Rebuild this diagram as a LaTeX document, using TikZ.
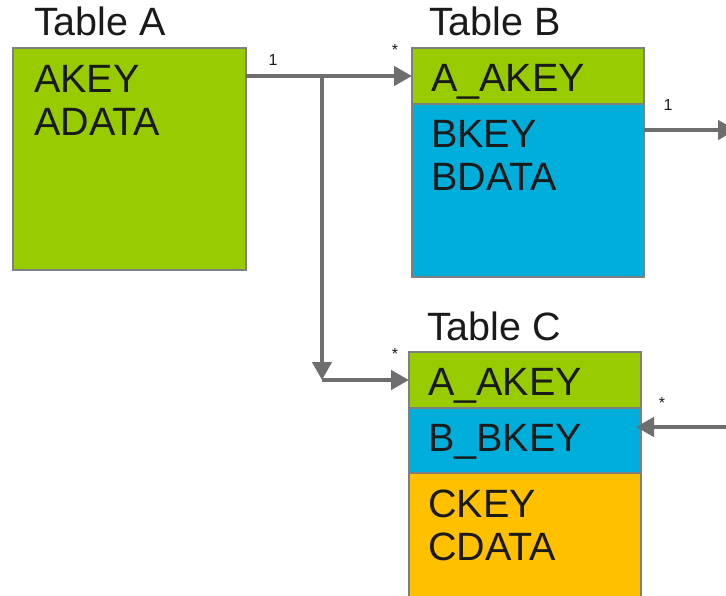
\documentclass[tikz,border=0pt]{standalone}
\usepackage{fontspec}
\setmainfont{Liberation Sans}
\usetikzlibrary{arrows.meta}
\definecolor{tgreen}{HTML}{99CC00}
\definecolor{tblue}{HTML}{00AEDB}
\definecolor{torange}{HTML}{FFC000}
\definecolor{tborder}{HTML}{7F7F7F}
\definecolor{tline}{HTML}{6E6E6E}
\definecolor{ttext}{HTML}{1A1A1A}
\tikzset{
  box/.style={draw=tborder, line width=2pt, inner sep=0pt, outer sep=0pt, anchor=north west},
  big/.style={font=\fontsize{39.5}{44}\selectfont, text=ttext, anchor=base west, inner sep=0pt},
  small/.style={font=\fontsize{16}{18}\selectfont, text=ttext, inner sep=0pt},
  conn/.style={draw=tline, line width=4.5pt, -{Triangle[length=18pt,width=19pt]}},
}
\begin{document}
\begin{tikzpicture}[x=1pt,y=-1pt]
\useasboundingbox (0,0) rectangle (726,596);
\clip (0,0) rectangle (726,596);
% boxes
\node[box, fill=tgreen, minimum width=233pt, minimum height=222pt] (tA) at (13,48) {};
\node[box, fill=tgreen, minimum width=232pt, minimum height=56pt] (bH) at (412,48) {};
\node[box, fill=tblue, minimum width=232pt, minimum height=173pt] (bB) at (412,104) {};
\node[box, fill=tgreen, minimum width=232pt, minimum height=56pt] (cH) at (409,352) {};
\node[box, fill=tblue, minimum width=232pt, minimum height=65pt] (cB) at (409,408) {};
\node[box, fill=torange, minimum width=232pt, minimum height=140pt] (cD) at (409,473) {};
% titles
\node[big] (ttA) at (34,36) {Table A};
\node[big] (ttB) at (429,36) {Table B};
\node[big] (ttC) at (427,341) {Table C};
% contents
\node[big] (a1) at (34,93) {AKEY};
\node[big] (a2) at (34,136) {ADATA};
\node[big] (b0) at (431,92) {A\_AKEY};
\node[big] (b1) at (431,148) {BKEY};
\node[big] (b2) at (431,191) {BDATA};
\node[big] (c0) at (428,395) {A\_AKEY};
\node[big] (c1) at (428,451) {B\_BKEY};
\node[big] (c2) at (428,517) {CKEY};
\node[big] (c3) at (428,560) {CDATA};
% connectors
\coordinate (j) at (322,76);
\coordinate (outB) at (736,130);
\coordinate (inC) at (740,427);
\draw[conn] (tA.east |- bH.center) -- (bH.west);
\draw[conn] (j) -- (j |- cH.west);
\draw[conn] (j |- cH.west) -- (cH.west);
\draw[conn] (bB.east |- outB) -- (outB);
\draw[conn] (inC) -- ([xshift=-5pt]cB.east |- inC);
% multiplicities
\node[small] (m1) at (273,60) {1};
\node[small] (m2) at (395,50) {*};
\node[small] (m3) at (395,354) {*};
\node[small] (m4) at (668,105) {1};
\node[small] (m5) at (662,403) {*};
\end{tikzpicture}
\end{document}
